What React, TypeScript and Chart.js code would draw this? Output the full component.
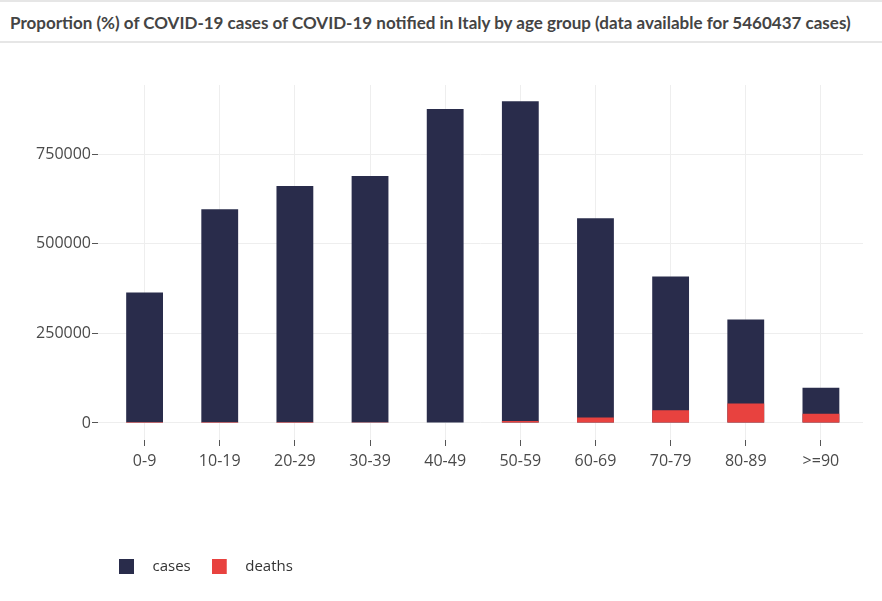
import React, { useEffect, useRef } from 'react';
import { Chart, registerables } from 'chart.js';

Chart.register(...registerables);

const TITLE =
  'Proportion (%) of COVID-19 cases of COVID-19 notified in Italy by age group (data available for 5460437 cases)';
const ageGroups = ['0-9', '10-19', '20-29', '30-39', '40-49', '50-59', '60-69', '70-79', '80-89', '>=90'];
const casesValues = [364000, 596000, 661000, 689000, 876000, 898000, 571000, 409000, 289000, 98000];
const deathsValues = [20, 25, 90, 350, 1400, 5500, 15000, 35500, 54000, 26000];
const yTickValues = [0, 250000, 500000, 750000];
const seriesNames = ['cases', 'deaths'];
const seriesColors = ['#292c4b', '#e8423f'];

const Y_MIN = -47500;
const Y_MAX = 943000;
const X_START = -0.62;
const X_RANGE = 10.18;

function makeIcon(color: string): HTMLCanvasElement {
  const c = document.createElement('canvas');
  c.width = 26;
  c.height = 15;
  const ctx = c.getContext('2d')!;
  ctx.fillStyle = color;
  ctx.fillRect(0, 0, 15, 15);
  return c;
}

export default function App() {
  const ref = useRef<HTMLCanvasElement | null>(null);

  useEffect(() => {
    if (!ref.current) return;
    const icons = seriesColors.map(makeIcon);
    const tickFont = { family: 'Open Sans', size: 16 };
    const chart = new Chart(ref.current, {
      type: 'bar',
      data: {
        labels: ageGroups,
        datasets: [
          {
            label: seriesNames[0],
            data: casesValues,
            backgroundColor: seriesColors[0],
            grouped: false,
            order: 1,
            categoryPercentage: 1,
            barPercentage: 0.49,
          },
          {
            label: seriesNames[1],
            data: deathsValues,
            backgroundColor: seriesColors[1],
            grouped: false,
            order: 0,
            categoryPercentage: 1,
            barPercentage: 0.49,
          },
        ] as any,
      },
      options: {
        animation: false,
        responsive: true,
        maintainAspectRatio: false,
        layout: { padding: { left: 0, right: 19, top: 41, bottom: 17 } },
        plugins: {
          tooltip: { enabled: false },
          legend: {
            position: 'bottom',
            align: 'start',
            fullSize: false,
            labels: {
              usePointStyle: true,
              pointStyleWidth: 26,
              padding: 21,
              color: '#333',
              font: { family: 'Open Sans', size: 15 },
              generateLabels: (ch: any) => {
                const items = (Chart.defaults.plugins.legend.labels as any).generateLabels(ch);
                return items
                  .sort((a: any, b: any) => a.datasetIndex - b.datasetIndex)
                  .map((it: any) => ({ ...it, pointStyle: icons[it.datasetIndex], lineWidth: 0 }));
              },
            },
          },
        },
        scales: {
          x: {
            grid: { color: '#eeeeee', offset: false, tickColor: '#555', tickLength: 6 },
            border: { display: false },
            ticks: { color: '#4a4a4a', font: tickFont, padding: 6, maxRotation: 0, autoSkip: false },
            afterBuildTicks: (s: any) => {
              s._startValue = X_START;
              s._valueRange = X_RANGE;
            },
            afterFit: (s: any) => {
              s.height = 98;
            },
          },
          y: {
            min: Y_MIN,
            max: Y_MAX,
            afterBuildTicks: (s: any) => {
              s.ticks = yTickValues.map((v) => ({ value: v }));
            },
            grid: { color: '#eeeeee', tickColor: '#555', tickLength: 6 },
            border: { display: false },
            ticks: { color: '#4a4a4a', font: tickFont, padding: 1, callback: (v: any) => String(v) },
            afterFit: (s: any) => {
              s.width = 98;
            },
          },
        },
      } as any,
    });
    return () => chart.destroy();
  }, []);

  return (
    <div style={{ position: 'fixed', left: 0, top: 0, width: 882, height: 601, background: '#fff' }}>
      <div
        style={{
          position: 'absolute',
          left: 0,
          top: 0,
          width: 872,
          height: 36,
          paddingTop: 3,
          paddingLeft: 10,
          borderTop: '2px solid #e6e6e6',
          borderBottom: '2px solid #e6e6e6',
          boxSizing: 'content-box',
          fontFamily: 'Lato, sans-serif',
          fontWeight: 700,
          fontSize: 17,
          color: '#444',
          lineHeight: '36px',
          whiteSpace: 'nowrap',
        }}
      >
        {TITLE}
      </div>
      <div style={{ position: 'absolute', left: 0, top: 44, width: 882, height: 557 }}>
        <canvas ref={ref} />
      </div>
    </div>
  );
}
